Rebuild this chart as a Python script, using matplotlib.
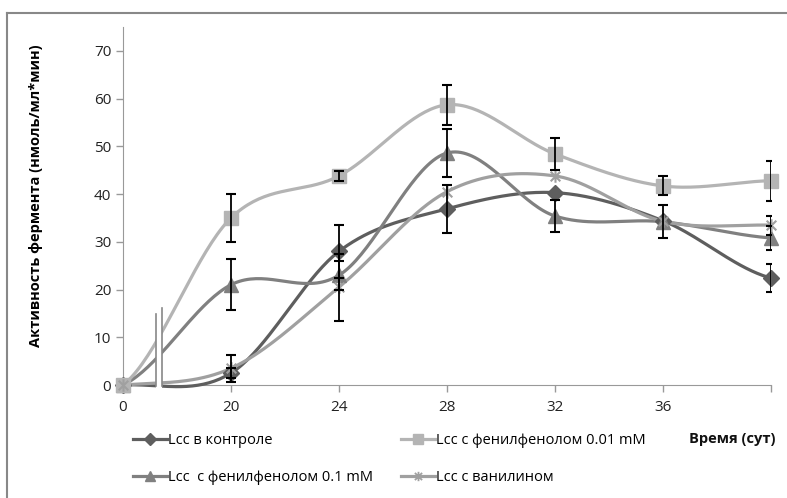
import numpy as np
import matplotlib.pyplot as plt
from matplotlib.lines import Line2D
from matplotlib.patches import Rectangle
from matplotlib.path import Path

plt.rcParams['font.family'] = ['Open Sans', 'DejaVu Sans']

# data
days = ["0", "20", "24", "28", "32", "36", ""]
control = [0, 2.5, 28, 36.9, 40.3, 34.4, 22.4]
control_err = [0, 1.0, 5.5, 5.0, 0, 0, 3.0]
phen001 = [0, 35, 43.8, 58.7, 48.4, 41.7, 42.8]
phen001_err = [0, 5.0, 1.0, 4.2, 3.3, 2.0, 4.2]
phen01 = [0, 21, 23, 48.6, 35.4, 34.2, 30.8]
phen01_err = [0, 5.3, 3.0, 5.1, 3.4, 3.5, 2.5]
vanillin = [0, 3.5, 20.5, 40.5, 43.8, 34.3, 33.5]
vanillin_err = [0, 2.8, 7.0, 0, 0, 0, 2.0]

# asterisk marker like in Excel (x with a vertical bar)
star = Path([(-1, -1), (1, 1), (-1, 1), (1, -1), (0, -1.3), (0, 1.3)],
            [Path.MOVETO, Path.LINETO, Path.MOVETO, Path.LINETO, Path.MOVETO, Path.LINETO])


def smooth(y, n=40):
    # catmull-rom, like the smoothed lines in Excel
    y = np.asarray(y, float)
    p = np.concatenate([[y[0]], y, [y[-1]]])
    xs, ys = [], []
    for i in range(len(y) - 1):
        t = np.linspace(0, 1, n)
        m0 = (p[i + 2] - p[i]) / 2
        m1 = (p[i + 3] - p[i + 1]) / 2
        h00 = 2 * t**3 - 3 * t**2 + 1
        h10 = t**3 - 2 * t**2 + t
        h01 = -2 * t**3 + 3 * t**2
        h11 = t**3 - t**2
        xs.append(i + t)
        ys.append(h00 * y[i] + h10 * m0 + h01 * y[i + 1] + h11 * m1)
    return np.concatenate(xs), np.concatenate(ys)


fig = plt.figure(figsize=(7.87, 4.98), dpi=100)
ax = fig.add_axes([0.1563, 0.2269, 0.8234, 0.7189])

x = np.arange(len(days))
series = [
    (control, control_err, "#5e5e5e", "D", 8, "Lcc в контроле"),
    (phen01, phen01_err, "#808080", "^", 10, "Lcc  с фенилфенолом 0.1 mM"),
    (phen001, phen001_err, "#b4b4b4", "s", 10, "Lcc с фенилфенолом 0.01 mM"),
    (vanillin, vanillin_err, "#a0a0a0", star, 9, "Lcc с ванилином"),
]

handles = []
for vals, err, col, mk, ms, lab in series:
    sx, sy = smooth(vals)
    ax.plot(sx, sy, color=col, lw=2.3, clip_on=False, zorder=3)
    ax.plot(x, vals, ls="none", marker=mk, ms=ms, color=col, mew=1.5 if mk is star else 1,
            clip_on=False, zorder=4)
    e = np.array(err)
    idx = e > 0
    ax.errorbar(x[idx], np.array(vals)[idx], yerr=e[idx], fmt="none", ecolor="black",
                elinewidth=1.3, capsize=3.5, capthick=1.5, zorder=5)
    handles.append(Line2D([], [], color=col, lw=2.3, marker=mk, ms=ms * 0.75,
                          mew=1.3 if mk is star else 1, label=lab))

# axis break
ax.add_patch(Rectangle((0.31, -1), 0.05, 16.5, facecolor="white", edgecolor="none",
                       zorder=6, clip_on=False))
ax.plot([0.31, 0.31], [-0.3, 14.8], color="#888888", lw=1.2, zorder=7, clip_on=False)
ax.plot([0.36, 0.36], [-0.3, 16.2], color="#888888", lw=1.2, zorder=7, clip_on=False)

ax.set_xlim(0, 6)
ax.set_ylim(0, 75)
ax.set_xticks(x)
ax.set_xticklabels(days)
ax.set_yticks(range(0, 71, 10))
ax.tick_params(colors="#999999", labelcolor="#222222", labelsize=11, length=5, width=1)
ax.tick_params(axis="x", pad=6)
for s in ["top", "right"]:
    ax.spines[s].set_visible(False)
for s in ["left", "bottom"]:
    ax.spines[s].set_color("#999999")

ax.set_ylabel("Активность фермента (нмоль/мл*мин)", fontsize=10.5, fontweight="bold")
ax.yaxis.set_label_coords(-0.124, 0.53)

fig.text(0.93, 0.118, "Время (сут)", fontsize=10.5, fontweight="bold", ha="center",
         va="center", color="#111111")

fig.legend(handles=handles, ncol=2, loc="upper left", bbox_to_anchor=(0.162, 0.142),
           frameon=False, fontsize=10.5, handlelength=2.3, handletextpad=0.1,
           columnspacing=1.9, labelspacing=1.5, borderaxespad=0)

# chart frame (top and left)
fig.add_artist(Line2D([0.009, 1.0], [0.974, 0.974], color="#888888", lw=1.5))
fig.add_artist(Line2D([0.009, 0.009], [0.0, 0.974], color="#888888", lw=1.5))

fig.savefig("out.png", dpi=100)
